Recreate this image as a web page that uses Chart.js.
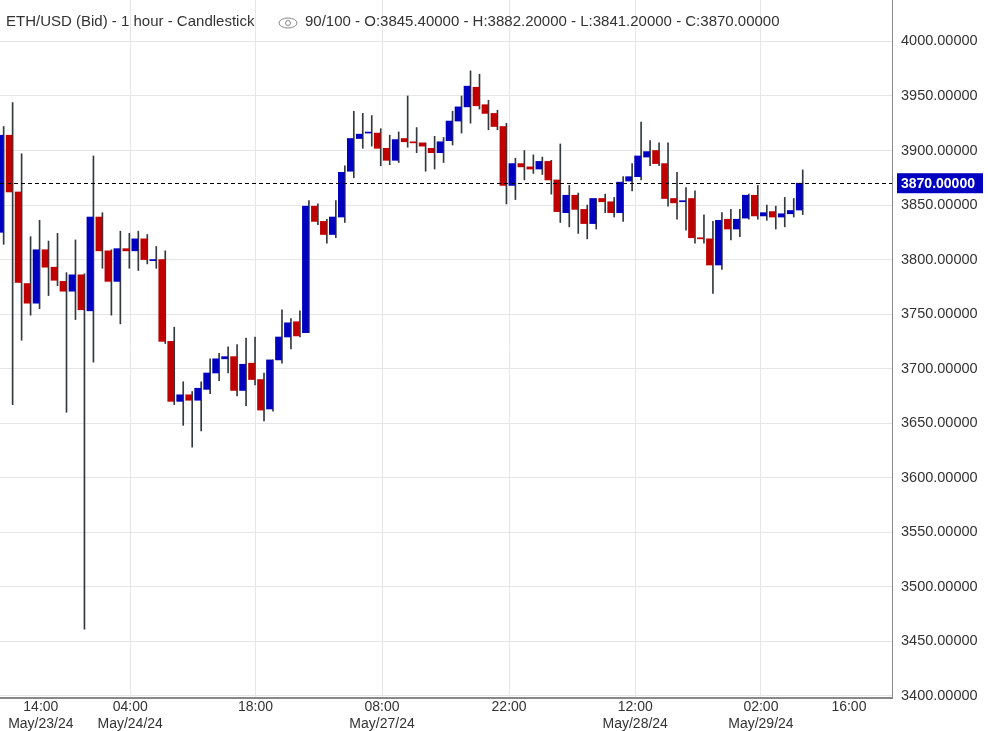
<!DOCTYPE html>
<html>
<head>
<meta charset="utf-8">
<script src="https://cdn.jsdelivr.net/npm/chart.js@4"></script>
<style>
  html, body { margin: 0; padding: 0; background: #fff; }
  #wrap { width: 988px; height: 731px; }
</style>
</head>
<body>
<div id="wrap"><canvas id="chart"></canvas></div>
<script>
// hourly candles
const opens = [3825,3914,3862,3778,3760,3809,3793,3780,3771,3786,
  3753,3839,3808,3780,3810,3808,3819,3799,3800,3725,
  3670,3676,3671,3681,3696,3709,3711,3680,3705,3690,
  3663,3708,3729,3743,3733,3849,3835,3823,3839,3881,
  3911,3916,3916,3902,3891,3911,3908,3907,3902,3898,
  3909,3927,3940,3958,3942,3934,3922,3868,3888,3885,
  3883,3890,3873,3843,3859,3846,3833,3856,3853,3843,
  3872,3876,3894,3900,3888,3856,3853,3856,3820,3819,
  3795,3837,3828,3838,3859,3840,3844,3839,3842,3845.4];
const closes = [3914,3862,3779,3760,3809,3793,3781,3771,3786,3754,
  3839,3808,3780,3810,3808,3819,3800,3800,3725,3670,
  3676,3671,3682,3696,3709,3711,3680,3704,3690,3662,
  3708,3729,3742,3730,3849,3835,3823,3839,3880,3911,
  3915,3916,3902,3891,3910,3908,3907,3904,3898,3908,
  3927,3940,3959,3941,3934,3922,3868,3888,3885,3883,
  3890,3873,3844,3859,3846,3833,3856,3853,3843,3871,
  3876,3895,3899,3888,3856,3852,3854,3820,3819,3795,
  3836,3828,3837,3859,3840,3843,3839,3842,3845,3870];
const highs = [3922,3944,3897,3821,3836,3817,3824,3788,3818,3787,
  3895,3843,3809,3826,3824,3826,3823,3812,3808,3738,
  3688,3679,3688,3709,3714,3720,3722,3728,3729,3696,
  3708,3754,3746,3753,3854,3851,3837,3854,3886,3936,
  3934,3932,3920,3914,3917,3950,3921,3907,3913,3912,
  3936,3950,3973,3970,3946,3937,3925,3893,3900,3896,
  3894,3891,3906,3868,3861,3850,3856,3860,3857,3876,
  3888,3926,3909,3907,3907,3880,3866,3863,3841,3835,
  3843,3846,3846,3860,3868,3850,3849,3857,3856,3882.2];
const lows = [3814,3667,3726,3749,3755,3767,3776,3660,3745,3461,
  3706,3792,3749,3741,3792,3790,3796,3792,3723,3667,
  3648,3628,3643,3677,3689,3696,3675,3666,3685,3652,
  3661,3705,3718,3729,3733,3832,3815,3820,3834,3875,
  3902,3904,3886,3887,3889,3903,3898,3881,3883,3889,
  3905,3916,3925,3938,3919,3919,3851,3855,3873,3879,
  3878,3860,3834,3830,3824,3819,3828,3843,3839,3835,
  3863,3873,3886,3886,3849,3837,3827,3815,3815,3769,
  3791,3818,3821,3837,3837,3836,3828,3830,3839,3841.2];
const lastPrice = 3870;

const tickPos = [0.1, 4.2, 14.15, 28.1, 42.2, 56.35, 70.4, 84.4, 94.2];
const tickLabels = [null, ['14:00','May/23/24'], ['04:00','May/24/24'], '18:00',
  ['08:00','May/27/24'], '22:00', ['12:00','May/28/24'], ['02:00','May/29/24'], '16:00'];
const noGrid = [4.2, 94.2];

const upColor = '#0000c0';
const downColor = '#c00000';
const wickColor = '#333a3f';
const font = 'Liberation Sans, Arial, sans-serif';

const wicks = lows.map((l, i) => ({ x: i, y: [l, highs[i]] }));
const bodies = opens.map((o, i) => ({ x: i, y: [o, closes[i]] }));
const bodyColors = opens.map((o, i) => closes[i] >= o ? upColor : downColor);

const overlay = {
  id: 'overlay',
  afterDatasetsDraw(chart) {
    const { ctx, chartArea, scales } = chart;
    const y = scales.y.getPixelForValue(lastPrice);
    ctx.save();
    ctx.strokeStyle = '#000';
    ctx.lineWidth = 1;
    ctx.setLineDash([4, 3]);
    ctx.beginPath();
    ctx.moveTo(chartArea.left, Math.round(y) + 0.5);
    ctx.lineTo(chartArea.right, Math.round(y) + 0.5);
    ctx.stroke();
    ctx.setLineDash([]);
    ctx.fillStyle = '#0000c0';
    ctx.fillRect(chartArea.right + 5, y - 10, 86, 20);
    ctx.fillStyle = '#fff';
    ctx.font = 'bold 14px ' + font;
    ctx.textBaseline = 'middle';
    ctx.fillText(lastPrice.toFixed(5), chartArea.right + 9, y + 1);

    // header
    ctx.fillStyle = '#333';
    ctx.font = '15px ' + font;
    ctx.fillText('ETH/USD (Bid) - 1 hour - Candlestick', 6, 22);
    ctx.strokeStyle = '#888';
    ctx.lineWidth = 1;
    ctx.beginPath();
    ctx.ellipse(288, 23, 9, 5, 0, 0, Math.PI * 2);
    ctx.stroke();
    ctx.beginPath();
    ctx.arc(288, 23, 2.5, 0, Math.PI * 2);
    ctx.stroke();
    ctx.fillText('90/100 - O:3845.40000 - H:3882.20000 - L:3841.20000 - C:3870.00000', 305, 22);
    ctx.restore();
  }
};

new Chart(document.getElementById('chart'), {
  type: 'bar',
  data: {
    datasets: [
      { data: bodies, backgroundColor: bodyColors, barThickness: 6, minBarLength: 1, order: 1 },
      { data: wicks, backgroundColor: wickColor, barThickness: 1, order: 2 }
    ]
  },
  options: {
    responsive: true,
    maintainAspectRatio: false,
    animation: false,
    events: [],
    layout: { padding: 0 },
    plugins: { legend: { display: false }, tooltip: { enabled: false } },
    scales: {
      x: {
        type: 'linear',
        min: -0.35,
        max: 99,
        offset: false,
        afterBuildTicks(axis) { axis.ticks = tickPos.map(v => ({ value: v })); },
        afterFit(axis) { axis.height = 33; axis.paddingLeft = 0; axis.paddingRight = 0; },
        ticks: {
          autoSkip: false, maxRotation: 0, padding: 1,
          color: '#333', font: { family: font, size: 14 }, lineHeight: 1.1,
          callback: (v, i) => tickLabels[i]
        },
        grid: {
          offset: false,
          drawTicks: false,
          color: ctx => noGrid.includes(ctx.tick && ctx.tick.value) ? 'rgba(0,0,0,0)' : '#e6e6e6'
        },
        border: { color: '#888', width: 2 }
      },
      y: {
        position: 'right',
        min: 3398,
        max: 4038,
        afterBuildTicks(axis) {
          const t = [];
          for (let v = 3400; v <= 4000; v += 50) t.push({ value: v });
          axis.ticks = t;
        },
        afterFit(axis) { axis.width = 96; axis.paddingTop = 0; axis.paddingBottom = 0; },
        ticks: {
          padding: 9, color: '#333', font: { family: font, size: 14.5 },
          callback: v => v.toFixed(5)
        },
        grid: { drawTicks: false, color: '#e6e6e6' },
        border: { color: '#888', width: 1 }
      }
    }
  },
  plugins: [overlay]
});
</script>
</body>
</html>
